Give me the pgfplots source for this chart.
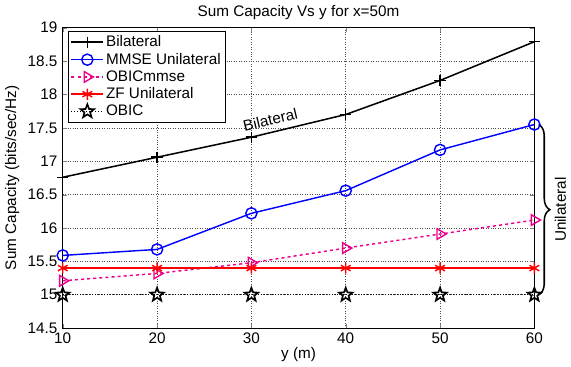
\documentclass[border=0pt]{standalone}
\usepackage{fontspec}
\setmainfont{Liberation Sans}
\usepackage{pgfplots}
\pgfplotsset{compat=1.18}
\usetikzlibrary{decorations.pathreplacing}
\pgfdeclareplotmark{pentstar}{%
  \pgfpathmoveto{\pgfpointpolar{90}{\pgfplotmarksize}}%
  \pgfpathlineto{\pgfpointpolar{126}{0.42\pgfplotmarksize}}%
  \pgfpathlineto{\pgfpointpolar{162}{\pgfplotmarksize}}%
  \pgfpathlineto{\pgfpointpolar{198}{0.42\pgfplotmarksize}}%
  \pgfpathlineto{\pgfpointpolar{234}{\pgfplotmarksize}}%
  \pgfpathlineto{\pgfpointpolar{270}{0.42\pgfplotmarksize}}%
  \pgfpathlineto{\pgfpointpolar{306}{\pgfplotmarksize}}%
  \pgfpathlineto{\pgfpointpolar{342}{0.42\pgfplotmarksize}}%
  \pgfpathlineto{\pgfpointpolar{18}{\pgfplotmarksize}}%
  \pgfpathlineto{\pgfpointpolar{54}{0.42\pgfplotmarksize}}%
  \pgfpathclose
  \pgfusepathqstroke}
\begin{document}
\fontsize{15}{17}\selectfont
\begin{tikzpicture}
\begin{axis}[
  scale only axis, width=463pt, height=295pt,
  xmin=10, xmax=60, ymin=14.5, ymax=19,
  xtick={10,20,...,60}, ytick={14.5,15,...,19},
  /pgf/number format/assume math mode=true,
  yticklabel style={/pgf/number format/fixed},
  grid=major, major grid style={dotted, black!70, line width=0.7pt},
  tick align=inside, axis line style={black, line width=1.1pt},
  title={Sum Capacity Vs y for x=50m},
  xlabel={y (m)}, ylabel={Sum Capacity (bits/sec/Hz)},
  label style={font=\fontsize{15}{17}\selectfont},
  title style={font=\fontsize{15}{17}\selectfont, yshift=-3pt},
  xlabel style={yshift=6pt}, ylabel style={yshift=-2pt},
  ticklabel style={font=\fontsize{15}{17}\selectfont},
  xticklabel style={yshift=1pt}, yticklabel style={xshift=0pt},
  clip=false,
  legend style={at={(0.012,0.988)}, anchor=north west, draw=black, font=\fontsize{15}{17}\selectfont, row sep=0pt, inner sep=2pt},
  legend image code/.code={\draw[mark repeat=2,mark phase=2,#1] plot coordinates {(0cm,0cm) (0.55cm,0cm) (1.1cm,0cm)};},
  legend cell align=left,
]
\addplot[black, line width=1.5pt, mark=+, mark size=5.5pt] coordinates {(10,16.76) (20,17.06) (30,17.36) (40,17.70) (50,18.21) (60,18.79)};
\addlegendentry{Bilateral}
\addplot[blue, line width=1.4pt, mark=o, mark size=5.5pt, mark options={solid}] coordinates {(10,15.59) (20,15.68) (30,16.22) (40,16.56) (50,17.17) (60,17.55)};
\addlegendentry{MMSE Unilateral}
\addplot[magenta, line width=1.4pt, dashed, mark=triangle, mark size=6pt, mark options={solid, rotate=-90}] coordinates {(10,15.21) (20,15.32) (30,15.48) (40,15.70) (50,15.91) (60,16.12)};
\addlegendentry{OBICmmse}
\addplot[red, line width=1.4pt, mark=asterisk, mark size=5.5pt, mark options={solid}] coordinates {(10,15.40) (20,15.40) (30,15.40) (40,15.40) (50,15.40) (60,15.40)};
\addlegendentry{ZF Unilateral}
\addplot[black, line width=0.9pt, dotted, mark=pentstar, mark size=7pt, mark options={solid, line width=1.6pt, line join=miter}] coordinates {(10,15.0) (20,15.0) (30,15.0) (40,15.0) (50,15.0) (60,15.0)};
\addlegendentry{OBIC}
\node[rotate=13.3, font=\fontsize{15}{17}\selectfont] at (axis cs:32,17.62) {Bilateral};
\draw[decorate, decoration={brace, amplitude=11pt}, line width=1.5pt] (axis cs:60.45,17.55) -- (axis cs:60.45,15.0)
  node[midway, right=10pt, rotate=90, anchor=north, font=\fontsize{15}{17}\selectfont] {Unilateral};
\end{axis}
\end{tikzpicture}
\end{document}
